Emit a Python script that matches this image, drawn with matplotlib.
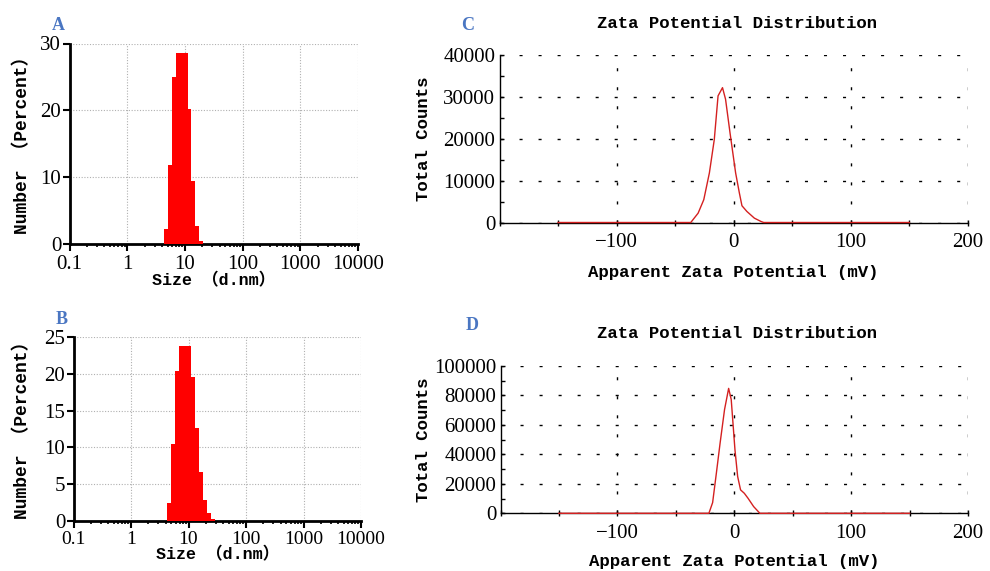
import numpy as np
import matplotlib
matplotlib.use("Agg")
import matplotlib.pyplot as plt
from matplotlib.ticker import LogLocator, FixedLocator, NullFormatter, MultipleLocator

# ---------------- data ----------------
size_edges_A = [4.3, 5.0, 5.9, 7.0, 11.3, 12.9, 15.1, 17.7, 20.6]
number_A = [2.25, 11.75, 25.0, 28.6, 20.15, 9.5, 2.75, 0.5]

size_edges_B = [4.3, 5.0, 5.9, 6.9, 11.0, 13.1, 15.2, 17.6, 20.7, 24.3, 28.8]
number_B = [2.45, 10.5, 20.4, 23.8, 19.6, 12.6, 6.7, 2.8, 1.1, 0.3]

size_ticks = [0.1, 1, 10, 100, 1000, 10000]
size_ticklabels = ["0.1", "1", "10", "100", "1000", "10000"]

zeta_C = [-150, -36.7, -30.4, -25.6, -20.8, -16.6, -13.4, -9.6, -7.0, -3.2,
          1.6, 4.8, 7.0, 11.2, 17.6, 23.3, 25.6, 150]
counts_C = [0, 0, 2240, 5440, 11840, 19840, 30240, 32200, 29440, 21440,
            11840, 7040, 4000, 2640, 1040, 240, 0, 0]

zeta_D = [-150, -21.7, -18.5, -15.3, -12.1, -8.3, -4.8, -2.6, 0.6, 2.9,
          5.4, 8.6, 11.8, 16.6, 21.4, 22.0, 150]
counts_D = [0, 0, 7270, 27270, 47700, 70450, 84800, 77300, 43200, 25000,
            15900, 13600, 10200, 4550, 450, 0, 0]

zeta_ticks = [-100, 0, 100, 200]
zeta_ticklabels = ["\u2212100", "0", "100", "200"]

# ---------------- style ----------------
W, H = 990, 571
fig = plt.figure(figsize=(W / 100, H / 100), dpi=100)

def rect(l, t, r, b):
    return [l / W, 1 - b / H, (r - l) / W, (b - t) / H]

TICKFAM = ["Liberation Serif"]
TICKSIZE = 15
LABFONT = ["Liberation Mono", "Noto Sans CJK SC"]
LABW = "bold"
BLUE = "#4a76c2"
RED_BAR = "#ff0000"
RED_LINE = "#d42020"


def style_ticklabels(ax, xsize=TICKSIZE):
    for lab in ax.get_xticklabels():
        lab.set_fontfamily(TICKFAM)
        lab.set_fontsize(xsize)
    for lab in ax.get_yticklabels():
        lab.set_fontfamily(TICKFAM)
        lab.set_fontsize(TICKSIZE)


def size_panel(ax, edges, vals, ymax, ystep, letter, lx, ly, xpad, xlp, ylx, yly, xsize):
    ax.stairs(vals, edges, fill=True, color=RED_BAR, baseline=0, zorder=3)
    ax.set_xscale("log")
    ax.set_xlim(0.1, 10000)
    ax.set_ylim(0, ymax)
    ax.xaxis.set_major_locator(FixedLocator(size_ticks))
    ax.set_xticklabels(size_ticklabels)
    ax.xaxis.set_minor_locator(LogLocator(base=10, subs=np.arange(2, 10)))
    ax.xaxis.set_minor_formatter(NullFormatter())
    ax.yaxis.set_major_locator(MultipleLocator(ystep))
    style_ticklabels(ax, xsize)
    ax.grid(True, which="major", color="#b0b0b0", linestyle=(0, (1, 1.5)), linewidth=0.8)
    ax.set_axisbelow(True)
    for s in ["top", "right"]:
        ax.spines[s].set_visible(False)
    for s in ["left", "bottom"]:
        ax.spines[s].set_linewidth(2.0)
    ax.tick_params(axis="both", which="major", direction="out", length=5, width=1.5, pad=1)
    ax.tick_params(axis="x", which="major", pad=xpad)
    ax.tick_params(axis="x", which="minor", direction="out", length=2.5, width=1.2)
    ax.set_xlabel("Size \uff08d.nm\uff09", family=LABFONT, fontsize=12, fontweight=LABW,
                  labelpad=xlp)
    ax.set_ylabel("Number \uff08Percent\uff09", family=LABFONT, fontsize=13, fontweight=LABW)
    ax.yaxis.set_label_coords(ylx, yly)
    fig.text(lx / W, 1 - ly / H, letter, color=BLUE, family=["Liberation Serif"],
             fontsize=13, fontweight="bold", ha="center", va="center")


def zeta_panel(ax, x, y, ymax, ystep, letter, lx, ly, ty, xlp, ylp):
    ax.plot(x, y, color=RED_LINE, linewidth=1.0, zorder=4, clip_on=False)
    ax.set_xlim(-200, 200)
    ax.set_ylim(0, ymax)
    ax.xaxis.set_major_locator(FixedLocator(zeta_ticks))
    ax.set_xticklabels(zeta_ticklabels)
    ax.xaxis.set_minor_locator(MultipleLocator(50))
    ax.yaxis.set_major_locator(MultipleLocator(ystep))
    ax.yaxis.set_minor_locator(MultipleLocator(ystep / 2))
    style_ticklabels(ax)
    ax.grid(True, which="major", color="black", linestyle=(0, (2.2, 11.5)), linewidth=1.0)
    ax.set_axisbelow(True)
    for s in ["top", "right"]:
        ax.spines[s].set_visible(False)
    for s in ["left", "bottom"]:
        ax.spines[s].set_linewidth(1.0)
    ax.tick_params(axis="x", which="both", direction="inout", length=5, width=1.0, pad=5)
    ax.tick_params(axis="y", which="both", direction="in", length=3, width=1.0, pad=3)
    ax.set_xlabel("Apparent Zata Potential (mV)", family=LABFONT, fontsize=12.5,
                  fontweight=LABW, labelpad=xlp)
    ax.set_ylabel("Total Counts", family=LABFONT, fontsize=12.5, fontweight=LABW, labelpad=ylp)
    fig.text(737 / W, 1 - ty / H, "Zata Potential Distribution", family=LABFONT,
             fontsize=12.5, fontweight=LABW, ha="center", va="center")
    fig.text(lx / W, 1 - ly / H, letter, color=BLUE, family=["Liberation Serif"],
             fontsize=13, fontweight="bold", ha="center", va="center")


axA = fig.add_axes(rect(69.5, 43.5, 358, 244))
size_panel(axA, size_edges_A, number_A, 30, 10, "A", 58, 25, 3, -1,
           (31 - 69.5) / 288.5, 0.515, 15)

axB = fig.add_axes(rect(73.5, 337, 361, 521))
size_panel(axB, size_edges_B, number_B, 25, 5, "B", 62, 320, 2, -1,
           (31 - 73.5) / 287.5, 0.52, 14)

axC = fig.add_axes(rect(499.5, 55, 968, 222.5))
zeta_panel(axC, zeta_C, counts_C, 40000, 10000, "C", 468, 26, 24, 9.5, 9)

axD = fig.add_axes(rect(500.5, 366, 968, 513.3))
zeta_panel(axD, zeta_D, counts_D, 100000, 20000, "D", 472, 326, 333, 8, 2)

fig.savefig("out.png", dpi=100)
